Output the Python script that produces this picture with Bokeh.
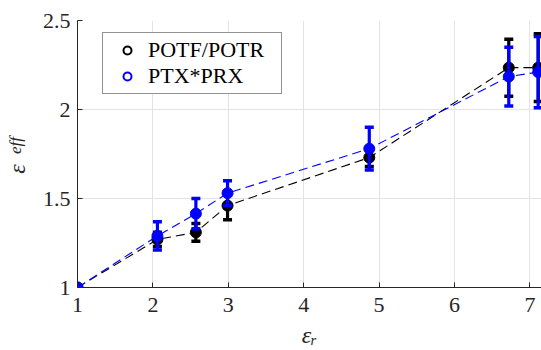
import math
from bokeh.plotting import figure
from bokeh.models import (ColumnDataSource, Legend, LegendItem, FixedTicker,
                          CustomJSTickFormatter, Range1d, LinearAxis)
from bokeh.embed import file_html
from bokeh.resources import INLINE

# ---- data ----
eps_r = [1.0, 2.06, 2.57, 2.99, 4.87, 6.72, 7.11]
eff_potf = [1.0, 1.27, 1.31, 1.46, 1.73, 2.235, 2.235]
err_potf = [0.0, 0.04, 0.05, 0.08, 0.05, 0.16, 0.19]
eff_ptx = [1.0, 1.29, 1.415, 1.53, 1.78, 2.185, 2.21]
err_ptx = [0.0, 0.08, 0.085, 0.07, 0.12, 0.165, 0.20]
series_names = ["POTF/POTR", "PTX*PRX"]
x_ticks = [1, 2, 3, 4, 5, 6, 7]
y_ticks = [1, 1.5, 2, 2.5]

FONT = "Liberation Serif"
AX = "#262626"
NB = "\u00a0"

p = figure(width=541, height=350, output_backend="svg", toolbar_location=None,
           x_range=Range1d(1, 7.154), y_range=Range1d(1, 2.5),
           min_border_left=77, min_border_right=0, min_border_top=20,
           min_border_bottom=63)
p.outline_line_color = None
p.background_fill_color = "white"

for ax in (p.xaxis, p.yaxis):
    ax.axis_line_color = AX
    ax.major_tick_line_color = AX
    ax.major_tick_in = 5
    ax.major_tick_out = 0
    ax.minor_tick_line_color = None
    ax.major_label_text_font = FONT
    ax.major_label_text_font_size = "22px"
    ax.major_label_text_color = AX
    ax.axis_label_text_font = FONT
    ax.axis_label_text_font_style = "italic"
    ax.axis_label_text_color = AX
    ax.formatter = CustomJSTickFormatter(code="return String(tick);")
p.xaxis.ticker = FixedTicker(ticks=x_ticks)
p.yaxis.ticker = FixedTicker(ticks=y_ticks)
p.xaxis.major_label_standoff = 10
p.yaxis.major_label_standoff = 7
p.xgrid.ticker = FixedTicker(ticks=x_ticks)
p.ygrid.ticker = FixedTicker(ticks=y_ticks)
p.grid.grid_line_color = "#e3e3e3"
p.grid.grid_line_width = 1

# x label: epsilon with subscript r
p.xaxis.axis_label = "εᵣ"
p.xaxis.axis_label_text_font_size = "24px"
p.xaxis.axis_label_standoff = 7

# y label: epsilon (main axis) + subscript "eff" (label-only axis pulled inward)
p.yaxis.axis_label = "ε" + NB * 5
p.yaxis.axis_label_text_font_size = "24px"
p.yaxis.axis_label_standoff = 10

sub_axis = LinearAxis(axis_label=NB * 4 + "eff", ticker=FixedTicker(ticks=[]),
                      axis_line_color=None, major_tick_line_color=None,
                      minor_tick_line_color=None, major_label_text_font_size="0px",
                      axis_label_standoff=-24, axis_label_text_font=FONT,
                      axis_label_text_font_style="italic", axis_label_text_font_size="17px",
                      axis_label_text_color=AX)
p.add_layout(sub_axis, "left")


def draw(xs, ys, es, color):
    p.line(xs, ys, line_color=color, line_width=1.1, line_dash="9 5")
    bx = [x for x, e in zip(xs, es) if e > 0]
    lo = [y - e for y, e in zip(ys, es) if e > 0]
    hi = [y + e for y, e in zip(ys, es) if e > 0]
    src = ColumnDataSource(dict(x=bx, lo=lo, hi=hi))
    p.segment(x0="x", y0="lo", x1="x", y1="hi", source=src, line_color=color, line_width=3.2)
    p.scatter("x", "lo", source=src, marker="dash", size=9, line_color=color, line_width=3.5)
    p.scatter("x", "hi", source=src, marker="dash", size=9, line_color=color, line_width=3.5)
    p.scatter(xs, ys, marker="circle", size=11, fill_color=color, line_color=color)


draw(eps_r, eff_potf, err_potf, "black")
draw(eps_r, eff_ptx, err_ptx, "#0000ff")

nan = float("nan")
items = []
for name, color in zip(series_names, ["black", "#0000ff"]):
    circ = p.scatter(x=[nan], y=[nan], marker="circle", size=8, fill_color="white",
                     line_color=color, line_width=2)
    items.append(LegendItem(label=name, renderers=[circ]))

legend = Legend(items=items, location=(25, 193))
legend.label_text_font = FONT
legend.label_text_font_size = "22px"
legend.label_text_color = "black"
legend.border_line_color = AX
legend.border_line_width = 1
legend.background_fill_alpha = 1
legend.padding = 4
legend.spacing = 0
legend.margin = 0
legend.glyph_width = 40
legend.glyph_height = 20
legend.label_height = 20
legend.label_standoff = 1
legend.label_width = 129
p.add_layout(legend)

open("out.html", "w").write(file_html(p, INLINE))
